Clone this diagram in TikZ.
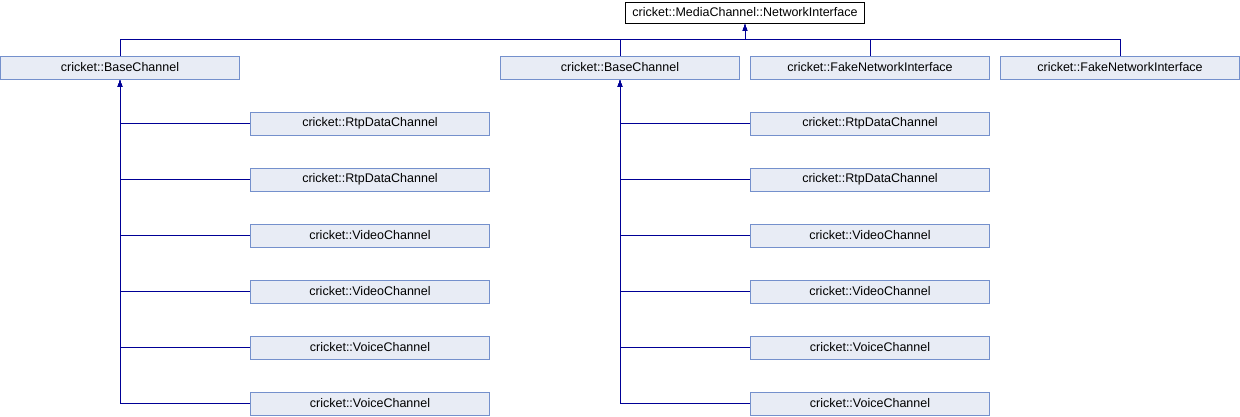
\documentclass[tikz,border=0pt]{standalone}
\usepackage{fontspec}
\setmainfont{Liberation Sans}
\usetikzlibrary{arrows.meta,positioning,calc}

\definecolor{boxfill}{RGB}{232,236,245}
\definecolor{boxline}{RGB}{116,144,204}
\definecolor{edgeblue}{RGB}{0,0,150}

\tikzset{
  cls/.style={draw=boxline, fill=boxfill, line width=1pt, minimum width=239pt,
              minimum height=23pt, inner sep=0pt, font=\fontsize{12.5}{14}\selectfont},
  rootcls/.style={cls, draw=black, fill=white, minimum height=21pt},
  inh/.style={draw=edgeblue, line width=1pt, -{Latex[length=7pt,width=5pt]}}
}

\begin{document}
\begin{tikzpicture}[x=1pt,y=-1pt]
        % the page
        \useasboundingbox (0,0) rectangle (1240,416);

        % the interface at the top
        \node[rootcls] (root) at (745,12.5) {cricket::MediaChannel::NetworkInterface};

        % its direct subclasses
        \node[cls] (base1) at (120,67.5) {cricket::BaseChannel};
        \node[cls] (base2) at (620,67.5) {cricket::BaseChannel};
        \node[cls] (fake1) at (870,67.5) {cricket::FakeNetworkInterface};
        \node[cls] (fake2) at (1120,67.5) {cricket::FakeNetworkInterface};

        \foreach \n in {base1,base2,fake1,fake2}
          \draw[inh] (\n.north) -- ++(0,-16) -| (root.south);

        % the channels below each BaseChannel
        \foreach \g/\x in {1/370,2/870} {
          \foreach \name [count=\i] in {RtpDataChannel,RtpDataChannel,VideoChannel,
                                        VideoChannel,VoiceChannel,VoiceChannel} {
            \node[cls] (chan\g-\i) at (\x,{123.5+56*(\i-1)}) {cricket::\name};
            \draw[inh] (chan\g-\i.west) -| (base\g.south);
          }
        }
      \end{tikzpicture}
\end{document}
